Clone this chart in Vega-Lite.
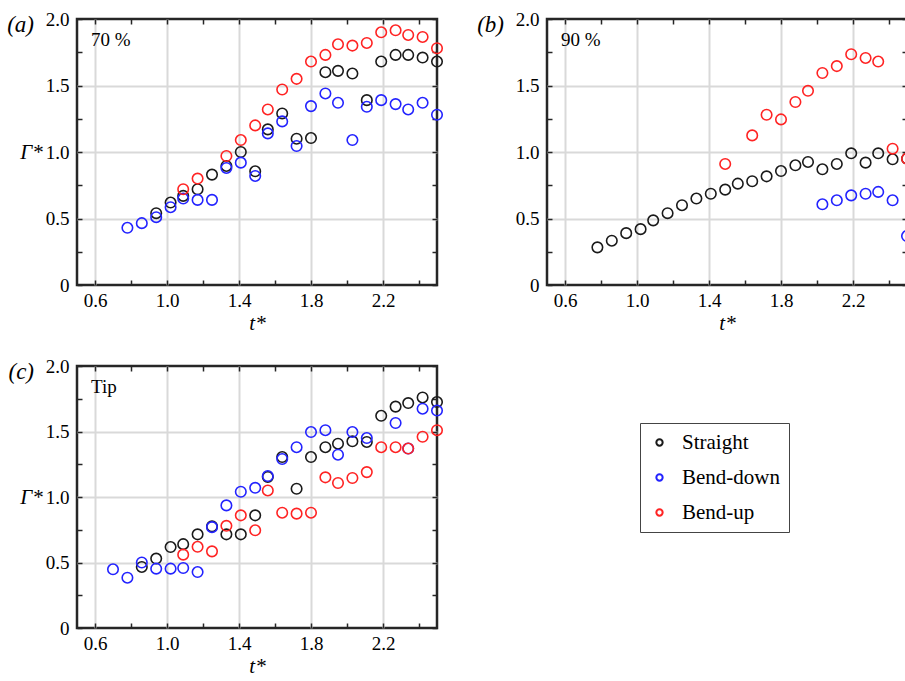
{
  "$schema": "https://vega.github.io/schema/vega-lite/v6.json",
  "padding": {"left": 5, "top": 8, "right": 0, "bottom": 5},
  "background": "#ffffff",
  "bounds": "flush",
  "spacing": 347,
  "datasets": {
    "a": [
      {"t":0.94,"g":0.54,"s":"Straight"},{"t":1.02,"g":0.62,"s":"Straight"},{"t":1.09,"g":0.67,"s":"Straight"},{"t":1.17,"g":0.72,"s":"Straight"},{"t":1.25,"g":0.83,"s":"Straight"},{"t":1.33,"g":0.895,"s":"Straight"},{"t":1.41,"g":1.0,"s":"Straight"},{"t":1.49,"g":0.855,"s":"Straight"},{"t":1.56,"g":1.17,"s":"Straight"},{"t":1.64,"g":1.29,"s":"Straight"},{"t":1.72,"g":1.1,"s":"Straight"},{"t":1.8,"g":1.105,"s":"Straight"},{"t":1.88,"g":1.6,"s":"Straight"},{"t":1.95,"g":1.61,"s":"Straight"},{"t":2.03,"g":1.59,"s":"Straight"},{"t":2.11,"g":1.39,"s":"Straight"},{"t":2.19,"g":1.68,"s":"Straight"},{"t":2.27,"g":1.73,"s":"Straight"},{"t":2.34,"g":1.73,"s":"Straight"},{"t":2.42,"g":1.71,"s":"Straight"},{"t":2.5,"g":1.68,"s":"Straight"},
      {"t":0.78,"g":0.43,"s":"Bend-down"},{"t":0.86,"g":0.465,"s":"Bend-down"},{"t":0.94,"g":0.51,"s":"Bend-down"},{"t":1.02,"g":0.585,"s":"Bend-down"},{"t":1.09,"g":0.65,"s":"Bend-down"},{"t":1.17,"g":0.64,"s":"Bend-down"},{"t":1.25,"g":0.64,"s":"Bend-down"},{"t":1.33,"g":0.88,"s":"Bend-down"},{"t":1.41,"g":0.92,"s":"Bend-down"},{"t":1.49,"g":0.82,"s":"Bend-down"},{"t":1.56,"g":1.14,"s":"Bend-down"},{"t":1.64,"g":1.23,"s":"Bend-down"},{"t":1.72,"g":1.045,"s":"Bend-down"},{"t":1.8,"g":1.345,"s":"Bend-down"},{"t":1.88,"g":1.44,"s":"Bend-down"},{"t":1.95,"g":1.37,"s":"Bend-down"},{"t":2.03,"g":1.09,"s":"Bend-down"},{"t":2.11,"g":1.34,"s":"Bend-down"},{"t":2.19,"g":1.39,"s":"Bend-down"},{"t":2.27,"g":1.36,"s":"Bend-down"},{"t":2.34,"g":1.32,"s":"Bend-down"},{"t":2.42,"g":1.37,"s":"Bend-down"},{"t":2.5,"g":1.28,"s":"Bend-down"},
      {"t":1.09,"g":0.72,"s":"Bend-up"},{"t":1.17,"g":0.8,"s":"Bend-up"},{"t":1.33,"g":0.97,"s":"Bend-up"},{"t":1.41,"g":1.09,"s":"Bend-up"},{"t":1.49,"g":1.2,"s":"Bend-up"},{"t":1.56,"g":1.32,"s":"Bend-up"},{"t":1.64,"g":1.47,"s":"Bend-up"},{"t":1.72,"g":1.55,"s":"Bend-up"},{"t":1.8,"g":1.68,"s":"Bend-up"},{"t":1.88,"g":1.73,"s":"Bend-up"},{"t":1.95,"g":1.81,"s":"Bend-up"},{"t":2.03,"g":1.8,"s":"Bend-up"},{"t":2.11,"g":1.82,"s":"Bend-up"},{"t":2.19,"g":1.9,"s":"Bend-up"},{"t":2.27,"g":1.915,"s":"Bend-up"},{"t":2.34,"g":1.88,"s":"Bend-up"},{"t":2.42,"g":1.865,"s":"Bend-up"},{"t":2.5,"g":1.78,"s":"Bend-up"}
    ],
    "b": [
      {"t":0.78,"g":0.283,"s":"Straight"},{"t":0.86,"g":0.333,"s":"Straight"},{"t":0.94,"g":0.39,"s":"Straight"},{"t":1.02,"g":0.42,"s":"Straight"},{"t":1.09,"g":0.486,"s":"Straight"},{"t":1.17,"g":0.54,"s":"Straight"},{"t":1.25,"g":0.6,"s":"Straight"},{"t":1.33,"g":0.65,"s":"Straight"},{"t":1.41,"g":0.686,"s":"Straight"},{"t":1.49,"g":0.717,"s":"Straight"},{"t":1.56,"g":0.762,"s":"Straight"},{"t":1.64,"g":0.78,"s":"Straight"},{"t":1.72,"g":0.817,"s":"Straight"},{"t":1.8,"g":0.857,"s":"Straight"},{"t":1.88,"g":0.9,"s":"Straight"},{"t":1.95,"g":0.925,"s":"Straight"},{"t":2.03,"g":0.87,"s":"Straight"},{"t":2.11,"g":0.91,"s":"Straight"},{"t":2.19,"g":0.99,"s":"Straight"},{"t":2.27,"g":0.92,"s":"Straight"},{"t":2.34,"g":0.99,"s":"Straight"},{"t":2.42,"g":0.945,"s":"Straight"},{"t":2.5,"g":0.95,"s":"Straight"},
      {"t":2.03,"g":0.607,"s":"Bend-down"},{"t":2.11,"g":0.637,"s":"Bend-down"},{"t":2.19,"g":0.674,"s":"Bend-down"},{"t":2.27,"g":0.686,"s":"Bend-down"},{"t":2.34,"g":0.7,"s":"Bend-down"},{"t":2.42,"g":0.637,"s":"Bend-down"},{"t":2.5,"g":0.368,"s":"Bend-down"},
      {"t":1.49,"g":0.91,"s":"Bend-up"},{"t":1.64,"g":1.125,"s":"Bend-up"},{"t":1.72,"g":1.28,"s":"Bend-up"},{"t":1.8,"g":1.245,"s":"Bend-up"},{"t":1.88,"g":1.376,"s":"Bend-up"},{"t":1.95,"g":1.46,"s":"Bend-up"},{"t":2.03,"g":1.594,"s":"Bend-up"},{"t":2.11,"g":1.646,"s":"Bend-up"},{"t":2.19,"g":1.735,"s":"Bend-up"},{"t":2.27,"g":1.707,"s":"Bend-up"},{"t":2.34,"g":1.68,"s":"Bend-up"},{"t":2.42,"g":1.025,"s":"Bend-up"},{"t":2.5,"g":0.95,"s":"Bend-up"}
    ],
    "c": [
      {"t":0.86,"g":0.466,"s":"Straight"},{"t":0.94,"g":0.53,"s":"Straight"},{"t":1.02,"g":0.618,"s":"Straight"},{"t":1.09,"g":0.64,"s":"Straight"},{"t":1.17,"g":0.715,"s":"Straight"},{"t":1.25,"g":0.776,"s":"Straight"},{"t":1.33,"g":0.715,"s":"Straight"},{"t":1.41,"g":0.715,"s":"Straight"},{"t":1.49,"g":0.86,"s":"Straight"},{"t":1.56,"g":1.153,"s":"Straight"},{"t":1.64,"g":1.305,"s":"Straight"},{"t":1.72,"g":1.063,"s":"Straight"},{"t":1.8,"g":1.305,"s":"Straight"},{"t":1.88,"g":1.38,"s":"Straight"},{"t":1.95,"g":1.407,"s":"Straight"},{"t":2.03,"g":1.425,"s":"Straight"},{"t":2.11,"g":1.42,"s":"Straight"},{"t":2.19,"g":1.62,"s":"Straight"},{"t":2.27,"g":1.69,"s":"Straight"},{"t":2.34,"g":1.717,"s":"Straight"},{"t":2.42,"g":1.76,"s":"Straight"},{"t":2.5,"g":1.725,"s":"Straight"},
      {"t":0.7,"g":0.448,"s":"Bend-down"},{"t":0.78,"g":0.384,"s":"Bend-down"},{"t":0.86,"g":0.5,"s":"Bend-down"},{"t":0.94,"g":0.453,"s":"Bend-down"},{"t":1.02,"g":0.453,"s":"Bend-down"},{"t":1.09,"g":0.458,"s":"Bend-down"},{"t":1.17,"g":0.427,"s":"Bend-down"},{"t":1.25,"g":0.77,"s":"Bend-down"},{"t":1.33,"g":0.936,"s":"Bend-down"},{"t":1.41,"g":1.04,"s":"Bend-down"},{"t":1.49,"g":1.07,"s":"Bend-down"},{"t":1.56,"g":1.16,"s":"Bend-down"},{"t":1.64,"g":1.29,"s":"Bend-down"},{"t":1.72,"g":1.38,"s":"Bend-down"},{"t":1.8,"g":1.496,"s":"Bend-down"},{"t":1.88,"g":1.51,"s":"Bend-down"},{"t":1.95,"g":1.323,"s":"Bend-down"},{"t":2.03,"g":1.496,"s":"Bend-down"},{"t":2.11,"g":1.45,"s":"Bend-down"},{"t":2.27,"g":1.565,"s":"Bend-down"},{"t":2.34,"g":1.37,"s":"Bend-down"},{"t":2.42,"g":1.674,"s":"Bend-down"},{"t":2.5,"g":1.66,"s":"Bend-down"},
      {"t":1.09,"g":0.56,"s":"Bend-up"},{"t":1.17,"g":0.62,"s":"Bend-up"},{"t":1.25,"g":0.585,"s":"Bend-up"},{"t":1.33,"g":0.78,"s":"Bend-up"},{"t":1.41,"g":0.86,"s":"Bend-up"},{"t":1.49,"g":0.746,"s":"Bend-up"},{"t":1.56,"g":1.05,"s":"Bend-up"},{"t":1.64,"g":0.88,"s":"Bend-up"},{"t":1.72,"g":0.873,"s":"Bend-up"},{"t":1.8,"g":0.88,"s":"Bend-up"},{"t":1.88,"g":1.15,"s":"Bend-up"},{"t":1.95,"g":1.107,"s":"Bend-up"},{"t":2.03,"g":1.145,"s":"Bend-up"},{"t":2.11,"g":1.19,"s":"Bend-up"},{"t":2.19,"g":1.38,"s":"Bend-up"},{"t":2.27,"g":1.38,"s":"Bend-up"},{"t":2.34,"g":1.37,"s":"Bend-up"},{"t":2.42,"g":1.46,"s":"Bend-up"},{"t":2.5,"g":1.51,"s":"Bend-up"}
    ]
  },
  "vconcat": [
    {
      "hconcat": [
        {
          "width": 360, "height": 266,
          "resolve": {"axis": {"x": "independent", "y": "independent"}},
          "layer": [
            {
              "data": {"name": "a"},
              "mark": {"type": "point", "shape": "circle", "filled": false, "size": 110, "strokeWidth": 1.6, "opacity": 1},
              "encoding": {
                "x": {"field": "t", "type": "quantitative", "scale": {"domain": [0.5, 2.5], "nice": false, "zero": false},
                  "axis": {"orient": "bottom", "values": [0.6,0.8,1.0,1.2,1.4,1.6,1.8,2.0,2.2,2.4], "labelExpr": "round(datum.value*10) % 4 == 2 ? format(datum.value,'.1f') : ''", "labelOverlap": false, "labelFlush": false, "grid": true, "gridOpacity": {"condition": {"test": "round(datum.value*10) % 4 == 2", "value": 1}, "value": 0}, "labelPadding": 11, "title": "t*", "titlePadding": 2}},
                "y": {"field": "g", "type": "quantitative", "scale": {"domain": [0, 2], "nice": false, "zero": false},
                  "axis": {"orient": "left", "values": [0,0.25,0.5,0.75,1,1.25,1.5,1.75,2], "labelExpr": "datum.value == 0 ? '0' : (round(datum.value*4) % 2 == 0 ? format(datum.value,'.1f') : '')", "labelOverlap": false, "labelFlush": false, "grid": true, "gridOpacity": {"condition": {"test": "round(datum.value*4) % 2 == 0 && datum.value > 0 && datum.value < 2", "value": 1}, "value": 0}, "labelPadding": 13, "title": "Γ*", "titleAngle": 0, "titleX": -46, "titleY": 133, "titleAlign": "center", "titleBaseline": "middle"}},
                "color": {"field": "s", "type": "nominal", "scale": {"domain": ["Straight", "Bend-down", "Bend-up"], "range": ["#1a1a1a", "#2323ff", "#ff2323"]}, "legend": {"title": null}}
              }
            },
            {
              "data": {"name": "a"},
              "mark": {"type": "point", "opacity": 0},
              "encoding": {
                "x": {"field": "t", "type": "quantitative", "axis": {"orient": "top", "values": [0.6,0.8,1.0,1.2,1.4,1.6,1.8,2.0,2.2,2.4], "labels": false, "grid": false, "title": null}},
                "y": {"field": "g", "type": "quantitative", "axis": {"orient": "right", "values": [0,0.25,0.5,0.75,1,1.25,1.5,1.75,2], "labels": false, "grid": false, "title": null}}
              }
            },
            {
              "data": {"values": [{"t": 0.578, "g": 1.84, "label": "70 %"}]},
              "mark": {"type": "text", "align": "left", "baseline": "middle", "fontSize": 19, "font": "Liberation Serif", "color": "#000"},
              "encoding": {"x": {"field": "t", "type": "quantitative", "axis": null}, "y": {"field": "g", "type": "quantitative", "axis": null}, "text": {"field": "label"}}
            },
            {
              "data": {"values": [{"t": 0.5, "g": 2.0, "label": "(a)"}]},
              "mark": {"type": "text", "align": "right", "baseline": "middle", "dx": -43, "dy": 6, "fontSize": 23, "fontStyle": "italic", "font": "Liberation Serif", "color": "#000"},
              "encoding": {"x": {"field": "t", "type": "quantitative", "axis": null}, "y": {"field": "g", "type": "quantitative", "axis": null}, "text": {"field": "label"}}
            }
          ]
        },
        {
          "width": 360, "height": 266,
          "resolve": {"axis": {"x": "independent", "y": "independent"}},
          "layer": [
            {
              "data": {"name": "b"},
              "mark": {"type": "point", "shape": "circle", "filled": false, "size": 110, "strokeWidth": 1.6, "opacity": 1},
              "encoding": {
                "x": {"field": "t", "type": "quantitative", "scale": {"domain": [0.5, 2.5], "nice": false, "zero": false},
                  "axis": {"orient": "bottom", "values": [0.6,0.8,1.0,1.2,1.4,1.6,1.8,2.0,2.2,2.4], "labelExpr": "round(datum.value*10) % 4 == 2 ? format(datum.value,'.1f') : ''", "labelOverlap": false, "labelFlush": false, "grid": true, "gridOpacity": {"condition": {"test": "round(datum.value*10) % 4 == 2", "value": 1}, "value": 0}, "labelPadding": 11, "title": "t*", "titlePadding": 2}},
                "y": {"field": "g", "type": "quantitative", "scale": {"domain": [0, 2], "nice": false, "zero": false},
                  "axis": {"orient": "left", "values": [0,0.25,0.5,0.75,1,1.25,1.5,1.75,2], "labelExpr": "datum.value == 0 ? '0' : (round(datum.value*4) % 2 == 0 ? format(datum.value,'.1f') : '')", "labelOverlap": false, "labelFlush": false, "grid": true, "gridOpacity": {"condition": {"test": "round(datum.value*4) % 2 == 0 && datum.value > 0 && datum.value < 2", "value": 1}, "value": 0}, "labelPadding": 13, "title": null}},
                "color": {"field": "s", "type": "nominal", "scale": {"domain": ["Straight", "Bend-down", "Bend-up"], "range": ["#1a1a1a", "#2323ff", "#ff2323"]}, "legend": {"title": null}}
              }
            },
            {
              "data": {"name": "b"},
              "mark": {"type": "point", "opacity": 0},
              "encoding": {
                "x": {"field": "t", "type": "quantitative", "axis": {"orient": "top", "values": [0.6,0.8,1.0,1.2,1.4,1.6,1.8,2.0,2.2,2.4], "labels": false, "grid": false, "title": null}},
                "y": {"field": "g", "type": "quantitative", "axis": {"orient": "right", "values": [0,0.25,0.5,0.75,1,1.25,1.5,1.75,2], "labels": false, "grid": false, "title": null}}
              }
            },
            {
              "data": {"values": [{"t": 0.578, "g": 1.84, "label": "90 %"}]},
              "mark": {"type": "text", "align": "left", "baseline": "middle", "fontSize": 19, "font": "Liberation Serif", "color": "#000"},
              "encoding": {"x": {"field": "t", "type": "quantitative", "axis": null}, "y": {"field": "g", "type": "quantitative", "axis": null}, "text": {"field": "label"}}
            },
            {
              "data": {"values": [{"t": 0.5, "g": 2.0, "label": "(b)"}]},
              "mark": {"type": "text", "align": "right", "baseline": "middle", "dx": -43, "dy": 6, "fontSize": 23, "fontStyle": "italic", "font": "Liberation Serif", "color": "#000"},
              "encoding": {"x": {"field": "t", "type": "quantitative", "axis": null}, "y": {"field": "g", "type": "quantitative", "axis": null}, "text": {"field": "label"}}
            }
          ]
        }
      ],
      "spacing": 110,
      "bounds": "flush"
    },
    {
      "width": 360, "height": 262,
      "resolve": {"axis": {"x": "independent", "y": "independent"}},
      "layer": [
        {
          "data": {"name": "c"},
          "mark": {"type": "point", "shape": "circle", "filled": false, "size": 110, "strokeWidth": 1.6, "opacity": 1},
          "encoding": {
            "x": {"field": "t", "type": "quantitative", "scale": {"domain": [0.5, 2.5], "nice": false, "zero": false},
              "axis": {"orient": "bottom", "values": [0.6,0.8,1.0,1.2,1.4,1.6,1.8,2.0,2.2,2.4], "labelExpr": "round(datum.value*10) % 4 == 2 ? format(datum.value,'.1f') : ''", "labelOverlap": false, "labelFlush": false, "grid": true, "gridOpacity": {"condition": {"test": "round(datum.value*10) % 4 == 2", "value": 1}, "value": 0}, "labelPadding": 11, "title": "t*", "titlePadding": 2}},
            "y": {"field": "g", "type": "quantitative", "scale": {"domain": [0, 2], "nice": false, "zero": false},
              "axis": {"orient": "left", "values": [0,0.25,0.5,0.75,1,1.25,1.5,1.75,2], "labelExpr": "datum.value == 0 ? '0' : (round(datum.value*4) % 2 == 0 ? format(datum.value,'.1f') : '')", "labelOverlap": false, "labelFlush": false, "grid": true, "gridOpacity": {"condition": {"test": "round(datum.value*4) % 2 == 0 && datum.value > 0 && datum.value < 2", "value": 1}, "value": 0}, "labelPadding": 13, "title": "Γ*", "titleAngle": 0, "titleX": -46, "titleY": 131, "titleAlign": "center", "titleBaseline": "middle"}},
            "color": {"field": "s", "type": "nominal", "scale": {"domain": ["Straight", "Bend-down", "Bend-up"], "range": ["#1a1a1a", "#2323ff", "#ff2323"]}, "legend": {"title": null}}
          }
        },
        {
          "data": {"name": "c"},
          "mark": {"type": "point", "opacity": 0},
          "encoding": {
            "x": {"field": "t", "type": "quantitative", "axis": {"orient": "top", "values": [0.6,0.8,1.0,1.2,1.4,1.6,1.8,2.0,2.2,2.4], "labels": false, "grid": false, "title": null}},
            "y": {"field": "g", "type": "quantitative", "axis": {"orient": "right", "values": [0,0.25,0.5,0.75,1,1.25,1.5,1.75,2], "labels": false, "grid": false, "title": null}}
          }
        },
        {
          "data": {"values": [{"t": 0.578, "g": 1.84, "label": "Tip"}]},
          "mark": {"type": "text", "align": "left", "baseline": "middle", "fontSize": 19, "font": "Liberation Serif", "color": "#000"},
          "encoding": {"x": {"field": "t", "type": "quantitative", "axis": null}, "y": {"field": "g", "type": "quantitative", "axis": null}, "text": {"field": "label"}}
        },
        {
          "data": {"values": [{"t": 0.5, "g": 2.0, "label": "(c)"}]},
          "mark": {"type": "text", "align": "right", "baseline": "middle", "dx": -43, "dy": 6, "fontSize": 23, "fontStyle": "italic", "font": "Liberation Serif", "color": "#000"},
          "encoding": {"x": {"field": "t", "type": "quantitative", "axis": null}, "y": {"field": "g", "type": "quantitative", "axis": null}, "text": {"field": "label"}}
        }
      ]
    }
  ],
  "config": {
    "font": "Liberation Serif",
    "view": {"stroke": "#262626", "strokeWidth": 2.5},
    "axis": {
      "labelFont": "Liberation Serif", "labelFontSize": 19, "labelColor": "#000",
      "titleFont": "Liberation Serif", "titleFontSize": 21, "titleFontStyle": "italic", "titleFontWeight": "normal", "titleColor": "#000",
      "domain": false, "ticks": true, "tickColor": "#262626", "tickWidth": 1.5, "tickSize": -5,
      "gridColor": "#d9d9d9", "gridWidth": 2
    },
    "legend": {
      "orient": "none", "legendX": 563, "legendY": 404,
      "strokeColor": "#444", "padding": 9, "rowPadding": 13,
      "symbolType": "circle", "symbolSize": 40, "symbolStrokeWidth": 2,
      "labelFont": "Liberation Serif", "labelFontSize": 21, "labelColor": "#000", "labelOffset": 12
    }
  }
}
